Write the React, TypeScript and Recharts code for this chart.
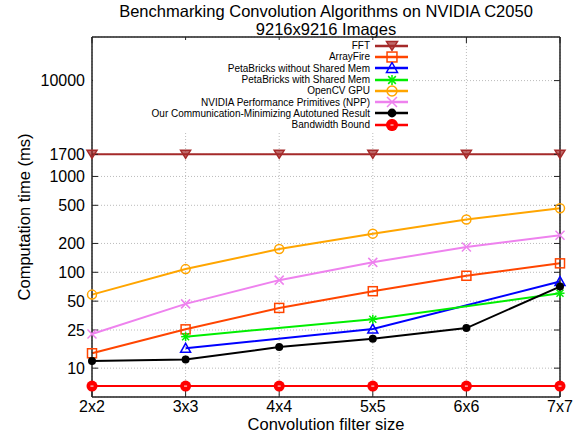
import React from 'react';
import { LineChart, Line, XAxis, YAxis, CartesianGrid, Legend } from 'recharts';

const sizes = ['2x2', '3x3', '4x4', '5x5', '6x6', '7x7'];
const fft = [1700, 1700, 1700, 1700, 1700, 1700];
const arrayFire = [14.3, 25.4, 42.5, 63.5, 92, 124];
const pbNoShared = [null, 16.1, null, 25.6, null, 80];
const pbShared = [null, 21.3, null, 32.4, null, 60.5];
const openCv = [58.5, 108, 175, 253, 355, 466];
const npp = [22.7, 46.8, 82.8, 127, 184, 243];
const ours = [11.9, 12.3, 16.6, 20.3, 26.2, 71];
const bandwidth = [6.5, 6.5, 6.5, 6.5, 6.5, 6.5];
const yTicks = [10, 25, 50, 100, 200, 500, 1000, 1700, 10000];

const data = sizes.map((size, i) => ({
  size,
  fft: fft[i],
  arrayFire: arrayFire[i],
  pbNoShared: pbNoShared[i],
  pbShared: pbShared[i],
  openCv: openCv[i],
  npp: npp[i],
  ours: ours[i],
  bandwidth: bandwidth[i],
}));

const series = [
  { key: 'fft', name: 'FFT', color: '#a52a2a', shape: 'triDown' },
  { key: 'arrayFire', name: 'ArrayFire', color: '#ff4500', shape: 'square' },
  { key: 'pbNoShared', name: 'PetaBricks without Shared Mem', color: '#0000ff', shape: 'triUp' },
  { key: 'pbShared', name: 'PetaBricks with Shared Mem', color: '#00ee00', shape: 'star' },
  { key: 'openCv', name: 'OpenCV GPU', color: '#ffa500', shape: 'circle' },
  { key: 'npp', name: 'NVIDIA Performance Primitives (NPP)', color: '#ee82ee', shape: 'cross' },
  { key: 'ours', name: 'Our Communication-Minimizing Autotuned Result', color: '#000000', shape: 'dot' },
  { key: 'bandwidth', name: 'Bandwidth Bound', color: '#ff0000', shape: 'bigDot' },
];

const FONT = '"Liberation Sans", Arial, Helvetica, sans-serif';
const TICK_SIZE = 16;
const LABEL_SIZE = 16.5;

const Marker = ({ shape, color, cx, cy, s = 1 }: any) => {
  if (cx == null || cy == null) return <g />;
  switch (shape) {
    case 'triDown':
      return (
        <path
          d={`M${cx - 5 * s},${cy - 4 * s} L${cx + 5 * s},${cy - 4 * s} L${cx},${cy + 4 * s} Z`}
          fill={color}
          fillOpacity={0.7}
          stroke={color}
          strokeWidth={1.5}
        />
      );
    case 'square':
      return (
        <rect x={cx - 4.5 * s} y={cy - 4.5 * s} width={9 * s} height={9 * s} fill="none" stroke={color} strokeWidth={1.5} />
      );
    case 'triUp':
      return (
        <path
          d={`M${cx - 5 * s},${cy + 4 * s} L${cx + 5 * s},${cy + 4 * s} L${cx},${cy - 5 * s} Z`}
          fill="none"
          stroke={color}
          strokeWidth={1.5}
        />
      );
    case 'star':
      return (
        <g stroke={color} strokeWidth={1.5}>
          <line x1={cx - 4.5 * s} y1={cy} x2={cx + 4.5 * s} y2={cy} />
          <line x1={cx} y1={cy - 4.5 * s} x2={cx} y2={cy + 4.5 * s} />
          <line x1={cx - 3.5 * s} y1={cy - 3.5 * s} x2={cx + 3.5 * s} y2={cy + 3.5 * s} />
          <line x1={cx - 3.5 * s} y1={cy + 3.5 * s} x2={cx + 3.5 * s} y2={cy - 3.5 * s} />
        </g>
      );
    case 'circle':
      return <circle cx={cx} cy={cy} r={4.5 * s} fill="none" stroke={color} strokeWidth={1.5} />;
    case 'cross':
      return (
        <g stroke={color} strokeWidth={1.5}>
          <line x1={cx - 4.5 * s} y1={cy - 4.5 * s} x2={cx + 4.5 * s} y2={cy + 4.5 * s} />
          <line x1={cx - 4.5 * s} y1={cy + 4.5 * s} x2={cx + 4.5 * s} y2={cy - 4.5 * s} />
        </g>
      );
    case 'dot':
      return <circle cx={cx} cy={cy} r={4 * s} fill={color} />;
    case 'bigDot':
      return (
        <g>
          <circle cx={cx} cy={cy} r={5.5 * s} fill={color} />
          <line x1={cx - 1.5} y1={cy} x2={cx + 1.5} y2={cy} stroke="#fff" strokeWidth={1} />
        </g>
      );
    default:
      return <g />;
  }
};

// tick labels drawn by hand so the font size sticks
const XTick = (p: any) => (
  <text x={p.x} y={p.y} dy="0.71em" textAnchor="middle" fontSize={TICK_SIZE} fontFamily={FONT} fill="#000">
    {p.payload.value}
  </text>
);

const YTick = (p: any) => (
  <text x={p.x} y={p.y} dy="0.355em" textAnchor="end" fontSize={TICK_SIZE} fontFamily={FONT} fill="#000">
    {p.payload.value}
  </text>
);

const renderLegend = () => (
  <div style={{ background: '#fff', width: 320, height: 92, fontFamily: FONT, fontSize: 10, color: '#000' }}>
    {series.map((s) => (
      <div
        key={s.key}
        style={{ display: 'flex', alignItems: 'center', justifyContent: 'flex-end', height: 11.3 }}
      >
        <span style={{ whiteSpace: 'nowrap', lineHeight: '11px' }}>{s.name}</span>
        <svg width={43} height={12} style={{ display: 'block' }}>
          <line x1={5} y1={6} x2={38} y2={6} stroke={s.color} strokeWidth={2.5} />
          <Marker shape={s.shape} color={s.color} cx={22} cy={6} s={1.1} />
        </svg>
      </div>
    ))}
  </div>
);

const axisLine = { stroke: '#222', strokeWidth: 1.5 };
const tickLine = { stroke: '#222', strokeWidth: 1 };
const labelStyle = { fill: '#000', fontSize: LABEL_SIZE, fontFamily: FONT };

const titleLine = {
  position: 'absolute' as const,
  left: 76,
  width: 500,
  textAlign: 'center' as const,
  fontSize: 16.5,
  lineHeight: '16px',
  color: '#000',
  whiteSpace: 'nowrap' as const,
};

export default function App() {
  return (
    <div style={{ position: 'absolute', left: 0, top: 0, width: 580, height: 432, background: '#fff', fontFamily: FONT }}>
      <div style={{ ...titleLine, top: 3 }}>Benchmarking Convolution Algorithms on NVIDIA C2050</div>
      <div style={{ ...titleLine, top: 21 }}>9216x9216 Images</div>
      <LineChart width={580} height={432} data={data} margin={{ top: 36, right: 19, bottom: 0, left: 0 }}>
        <CartesianGrid stroke="#bbb" strokeDasharray="1 2" />
        <XAxis
          dataKey="size"
          height={35}
          axisLine={axisLine}
          tickLine={tickLine}
          tickSize={-6}
          tickMargin={10}
          tick={<XTick />}
          interval={0}
          label={{ value: 'Convolution filter size', position: 'insideBottom', offset: 2, fontSize: LABEL_SIZE, style: labelStyle }}
        />
        <XAxis
          xAxisId="top"
          dataKey="size"
          orientation="top"
          height={1}
          axisLine={axisLine}
          tickLine={tickLine}
          tickSize={-6}
          interval={0}
          tickFormatter={() => ''}
        />
        <YAxis
          type="number"
          scale="log"
          domain={[5, 28500]}
          ticks={yTicks}
          allowDataOverflow
          width={92}
          axisLine={axisLine}
          tickLine={tickLine}
          tickSize={-6}
          tickMargin={13}
          tick={<YTick />}
          interval={0}
          label={{
            value: 'Computation time (ms)',
            angle: -90,
            position: 'insideLeft',
            offset: 24,
            fontSize: LABEL_SIZE,
            style: { ...labelStyle, textAnchor: 'middle' },
          }}
        />
        <YAxis
          yAxisId="right"
          orientation="right"
          type="number"
          scale="log"
          domain={[5, 28500]}
          ticks={yTicks}
          allowDataOverflow
          width={1}
          axisLine={axisLine}
          tickLine={tickLine}
          tickSize={-6}
          interval={0}
          tickFormatter={() => ''}
        />
        <Legend
          verticalAlign="middle"
          align="center"
          content={renderLegend}
          wrapperStyle={{ left: 93, top: 40, width: 320, height: 92 }}
        />
        {series.map((s) => (
          <Line
            key={s.key}
            dataKey={s.key}
            name={s.name}
            type="linear"
            stroke={s.color}
            strokeWidth={2}
            connectNulls
            isAnimationActive={false}
            activeDot={false}
            dot={(p: any) => (
              <Marker key={`${s.key}-${p.index}`} shape={s.shape} color={s.color} cx={p.cx} cy={p.cy} />
            )}
          />
        ))}
      </LineChart>
    </div>
  );
}
